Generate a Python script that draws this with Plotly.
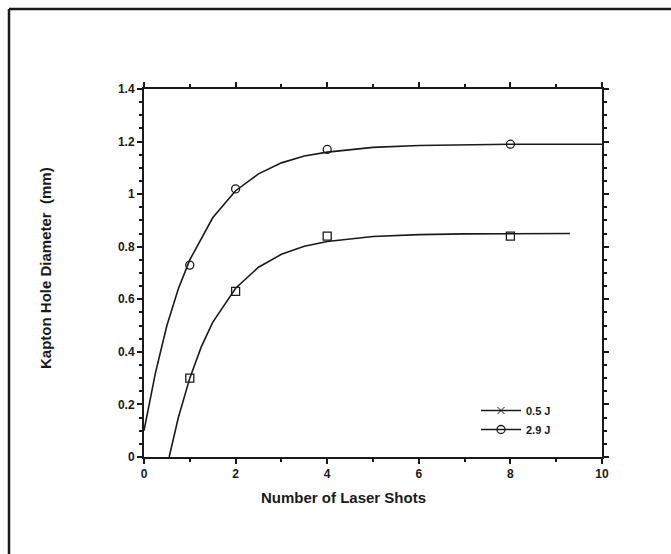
import plotly.graph_objects as go

# Measured points
shots = [1, 2, 4, 8]
diam_05J = [0.30, 0.63, 0.84, 0.84]
diam_29J = [0.73, 1.02, 1.17, 1.19]

# Fitted curves
fit29_x = [0, 0.25, 0.5, 0.75, 1, 1.5, 2, 2.5, 3, 3.5, 4, 5, 6, 7, 8, 10]
fit29_y = [0.10, 0.32, 0.50, 0.64, 0.75, 0.91, 1.013, 1.077, 1.119, 1.145, 1.16, 1.178, 1.185, 1.188, 1.19, 1.19]
fit05_x = [0.55, 0.75, 1.0, 1.25, 1.5, 2.0, 2.5, 3.0, 3.5, 4.0, 5, 6, 7, 8, 9.3]
fit05_y = [0.0, 0.15, 0.30, 0.419, 0.512, 0.642, 0.722, 0.771, 0.802, 0.82, 0.839, 0.846, 0.849, 0.85, 0.85]

x_ticks = [0, 2, 4, 6, 8, 10]
y_ticks = [0, 0.2, 0.4, 0.6, 0.8, 1, 1.2, 1.4]
y_tick_text = ["0", "0.2", "0.4", "0.6", "0.8", "1", "1.2", "1.4"]

BLACK = "#1a1a1a"
FONT = "Liberation Sans"

# plot area target: x 144..602, y 89..457 (screen px)
PL, PR, PT, PB = 144, 602, 89, 457
PW, PH = PR - PL, PB - PT
W, H = 671, 554

def px(x):
    return (x - PL) / PW

def py(y):
    return (PB - y) / PH

fig = go.Figure()

fig.add_trace(go.Scatter(x=fit29_x, y=fit29_y, mode="lines", line=dict(color=BLACK, width=1.6),
                         showlegend=False, hoverinfo="skip"))
fig.add_trace(go.Scatter(x=fit05_x, y=fit05_y, mode="lines", line=dict(color=BLACK, width=1.6),
                         showlegend=False, hoverinfo="skip"))
fig.add_trace(go.Scatter(x=shots, y=diam_29J, mode="markers",
                         marker=dict(symbol="circle-open", size=8, color=BLACK, line=dict(width=1.3)),
                         showlegend=False))
fig.add_trace(go.Scatter(x=shots, y=diam_05J, mode="markers",
                         marker=dict(symbol="square-open", size=8, color=BLACK, line=dict(width=1.3)),
                         showlegend=False))
# legend entries
fig.add_trace(go.Scatter(x=[None], y=[None], mode="lines+markers", name="0.5 J",
                         line=dict(color=BLACK, width=1.6),
                         marker=dict(symbol="x-thin-open", size=7, color=BLACK, line=dict(width=1))))
fig.add_trace(go.Scatter(x=[None], y=[None], mode="lines+markers", name="2.9 J",
                         line=dict(color=BLACK, width=1.6),
                         marker=dict(symbol="circle-open", size=8, color=BLACK, line=dict(width=1.3))))

axis_common = dict(showgrid=False, zeroline=False, showline=True, linecolor=BLACK, linewidth=2,
                   mirror="ticks", ticks="outside", ticklen=5, tickwidth=1.5, tickcolor=BLACK,
                   tickfont=dict(family=FONT, size=12, color=BLACK, weight="bold"))

fig.update_xaxes(range=[0, 10], tickvals=x_ticks, ticktext=[str(v) for v in x_ticks],
                 minor=dict(dtick=1, ticks="outside", ticklen=3, tickwidth=1.5, tickcolor=BLACK),
                 **axis_common)
fig.update_yaxes(range=[0, 1.4], tickvals=y_ticks, ticktext=y_tick_text,
                 minor=dict(dtick=0.05, ticks="outside", ticklen=3, tickwidth=1.5, tickcolor=BLACK),
                 **axis_common)

fig.update_layout(
    width=W, height=H,
    margin=dict(l=PL, r=W - PR, t=PT, b=H - PB),
    paper_bgcolor="white", plot_bgcolor="white",
    font=dict(family=FONT, color=BLACK),
    modebar=dict(bgcolor="rgba(0,0,0,0)", color="rgba(0,0,0,0)", activecolor="rgba(0,0,0,0)"),
    legend=dict(x=px(476), y=py(396), xanchor="left", yanchor="top", bgcolor="rgba(0,0,0,0)",
                font=dict(family=FONT, size=11, color=BLACK, weight="bold"), itemwidth=40, tracegroupgap=0),
    annotations=[
        dict(text="<b>Number of Laser Shots</b>", xref="paper", yref="paper",
             x=px(343), y=py(497), xanchor="center", yanchor="middle",
             showarrow=False, font=dict(family=FONT, size=15, color=BLACK)),
        dict(text="<b>Kapton Hole Diameter  (mm)</b>", xref="paper", yref="paper",
             x=px(45), y=py(268), xanchor="center", yanchor="middle",
             textangle=-90, showarrow=False, font=dict(family=FONT, size=15, color=BLACK)),
    ],
    shapes=[
        dict(type="line", xref="paper", yref="paper", x0=px(9), x1=px(680),
             y0=py(9), y1=py(9), line=dict(color=BLACK, width=2.5)),
        dict(type="line", xref="paper", yref="paper", x0=px(9), x1=px(9),
             y0=py(9), y1=py(560), line=dict(color=BLACK, width=2.5)),
    ],
)

fig.write_html(
    "out.html",
    config={"displaylogo": False},
    post_script=("document.body.style.margin='0';document.body.style.overflow='hidden';"
                 "document.documentElement.style.overflow='hidden';"),
)
